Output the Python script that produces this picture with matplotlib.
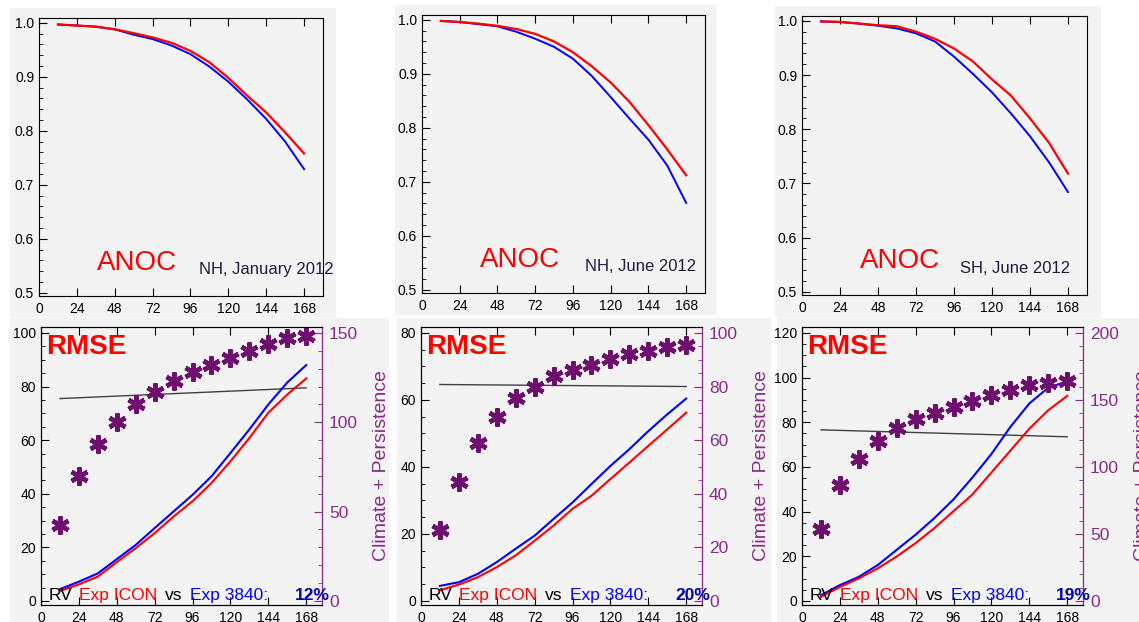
import numpy as np
import matplotlib.pyplot as plt
from matplotlib.ticker import AutoMinorLocator, FormatStrFormatter
from matplotlib.patches import Rectangle

plt.rcParams['font.family'] = ['Liberation Sans', 'DejaVu Sans']

# forecast lead time (hours)
hours = [12, 24, 36, 48, 60, 72, 84, 96, 108, 120, 132, 144, 156, 168]
xtick_vals = [0, 24, 48, 72, 96, 120, 144, 168]

# anomaly correlation, ICON (red) and 3840 (blue)
anoc_titles = ["NH, January 2012", "NH, June 2012", "SH, June 2012"]
anoc_icon_nh_jan = [0.997, 0.995, 0.993, 0.988, 0.981, 0.973, 0.963, 0.948, 0.927, 0.898, 0.865, 0.834, 0.797, 0.758]
anoc_3840_nh_jan = [0.997, 0.995, 0.993, 0.988, 0.978, 0.970, 0.958, 0.942, 0.919, 0.891, 0.858, 0.822, 0.780, 0.729]
anoc_icon_nh_jun = [0.998, 0.996, 0.993, 0.989, 0.983, 0.974, 0.960, 0.940, 0.914, 0.884, 0.848, 0.805, 0.760, 0.712]
anoc_3840_nh_jun = [0.998, 0.996, 0.992, 0.988, 0.978, 0.965, 0.950, 0.928, 0.896, 0.857, 0.817, 0.778, 0.730, 0.661]
anoc_icon_sh_jun = [0.999, 0.998, 0.995, 0.992, 0.990, 0.980, 0.967, 0.949, 0.925, 0.892, 0.862, 0.820, 0.775, 0.718]
anoc_3840_sh_jun = [0.999, 0.998, 0.995, 0.991, 0.986, 0.977, 0.962, 0.934, 0.902, 0.868, 0.829, 0.787, 0.739, 0.684]

# RMSE, ICON (red) and 3840 (blue)
rmse_icon_nh_jan = [3.7, 6.2, 9.1, 14.5, 19.7, 25.3, 31.5, 37.2, 44.0, 52.1, 60.8, 70.2, 77.0, 83.0]
rmse_3840_nh_jan = [4.4, 7.2, 10.3, 15.6, 20.9, 27.2, 33.4, 39.6, 46.5, 55.2, 64.0, 73.3, 81.5, 88.0]
rmse_icon_nh_jun = [3.2, 4.9, 7.1, 10.1, 13.6, 18.0, 22.5, 27.5, 31.4, 36.4, 41.3, 46.3, 51.2, 56.2]
rmse_3840_nh_jun = [4.5, 5.6, 8.1, 11.6, 15.6, 19.5, 24.5, 29.4, 34.9, 40.3, 45.3, 50.7, 55.7, 60.4]
rmse_icon_sh_jun = [1.8, 6.3, 10.1, 14.6, 19.9, 25.9, 32.7, 40.2, 47.7, 57.5, 67.3, 77.1, 85.4, 91.8]
rmse_3840_sh_jun = [2.6, 7.1, 10.8, 16.1, 22.9, 29.7, 37.2, 45.5, 55.3, 65.8, 77.9, 88.4, 95.5, 98.3]

# reference RMSE (black line), start and end of range
ref_hours = [12, 168]
rmse_ref_nh_jan = [75.5, 79.5]
rmse_ref_nh_jun = [64.6, 64.0]
rmse_ref_sh_jun = [76.6, 73.5]

# climate + persistence (stars, right axis)
clim_nh_jan = [42.6, 70.0, 88.0, 100.0, 110.0, 117.0, 123.0, 128.0, 132.0, 136.0, 140.0, 144.0, 147.0, 148.5]
clim_nh_jun = [26.3, 44.5, 59.0, 68.8, 75.8, 79.8, 83.9, 86.0, 88.2, 90.3, 92.2, 93.4, 94.7, 95.3]
clim_sh_jun = [53.5, 86.5, 106.0, 119.5, 129.0, 135.7, 140.6, 145.0, 149.4, 153.9, 157.6, 160.8, 162.6, 163.8]

rv_labels = ["12%", "20%", "19%"]

W, H = 1139, 622
fig = plt.figure(figsize=(W / 100, H / 100), dpi=100)

def px_axes(left, top, right, bottom):
    return fig.add_axes([left / W, 1 - bottom / H, (right - left) / W, (bottom - top) / H])

# grey panel backgrounds
bg = '#f3f3f3'
for (x0, y0, x1, y1) in [(10, 8, 335, 316), (395, 5, 715, 314), (775, 6, 1100, 316),
                         (10, 318, 388, 622), (397, 318, 770, 622), (777, 318, 1139, 622)]:
    fig.patches.append(Rectangle((x0 / W, 1 - y1 / H), (x1 - x0) / W, (y1 - y0) / H,
                                 transform=fig.transFigure, color=bg, zorder=-1))

purple = '#8a2a8a'
star_col = '#6e0f6e'

def style_x(ax, xmax):
    ax.set_xlim(0, xmax)
    ax.set_xticks(xtick_vals)
    ax.tick_params(axis='x', direction='in', top=True, length=6, labelsize=10, pad=4)
    ax.tick_params(axis='y', which='both', direction='in')
    ax.set_facecolor(bg)

# ---- top row: ANOC ----
top_boxes = [(39, 18, 323, 296), (422, 15, 705, 293), (802, 16, 1087, 295)]
anoc_icon = [anoc_icon_nh_jan, anoc_icon_nh_jun, anoc_icon_sh_jun]
anoc_3840 = [anoc_3840_nh_jan, anoc_3840_nh_jun, anoc_3840_sh_jun]
title_x = [0.563, 0.576, 0.554]

for i in range(3):
    ax = px_axes(*top_boxes[i])
    style_x(ax, 180)
    ax.plot(hours, anoc_3840[i], color='#0000ff', lw=1.4)
    ax.plot(hours, anoc_icon[i], color='#ff0000', lw=1.6)
    ax.set_ylim(0.494, 1.009)
    ax.set_yticks([0.5, 0.6, 0.7, 0.8, 0.9, 1.0])
    ax.yaxis.set_major_formatter(FormatStrFormatter('%.1f'))
    ax.yaxis.set_minor_locator(AutoMinorLocator(5))
    ax.tick_params(axis='y', which='major', length=6, labelsize=10)
    ax.tick_params(axis='y', which='minor', length=3)
    ax.text(0.204, 0.095, "ANOC", transform=ax.transAxes, color='#ff0000', fontsize=20)
    ax.text(title_x[i], 0.08, anoc_titles[i], transform=ax.transAxes, color='#1c1c3c',
            fontsize=12, clip_on=False)

# ---- bottom row: RMSE ----
bot_boxes = [(41, 327, 322, 605), (421, 327, 702, 605), (802, 327, 1083, 605)]
rmse_icon = [rmse_icon_nh_jan, rmse_icon_nh_jun, rmse_icon_sh_jun]
rmse_3840 = [rmse_3840_nh_jan, rmse_3840_nh_jun, rmse_3840_sh_jun]
rmse_ref = [rmse_ref_nh_jan, rmse_ref_nh_jun, rmse_ref_sh_jun]
clim = [clim_nh_jan, clim_nh_jun, clim_sh_jun]
left_max = [100, 80, 120]
right_max = [150, 100, 200]
right_step = [50, 20, 50]
right_minor = [5, 4, 5]

for i in range(3):
    ax = px_axes(*bot_boxes[i])
    style_x(ax, 178)
    lm = left_max[i]
    ax.set_ylim(-0.015 * lm, 1.022 * lm)
    ax.set_yticks(np.arange(0, lm + 1, 20))
    ax.yaxis.set_minor_locator(AutoMinorLocator(4))
    ax.tick_params(axis='y', which='major', length=6, labelsize=10, right=False)
    ax.tick_params(axis='y', which='minor', length=3, right=False)
    ax.plot(ref_hours, rmse_ref[i], color='#404040', lw=1.0)
    ax.plot(hours, rmse_3840[i], color='#0000ff', lw=1.5)
    ax.plot(hours, rmse_icon[i], color='#ff0000', lw=1.5)

    ax2 = ax.twinx()
    rm = right_max[i]
    ax2.set_ylim(-0.015 * rm, 1.022 * rm)
    ax2.set_yticks(np.arange(0, rm + 1, right_step[i]))
    ax2.yaxis.set_minor_locator(AutoMinorLocator(right_minor[i]))
    ax2.tick_params(axis='y', which='both', direction='in', colors=purple, labelsize=12.5, pad=5)
    ax2.tick_params(axis='y', which='major', length=6)
    ax2.tick_params(axis='y', which='minor', length=3)
    ax2.spines['right'].set_color(purple)
    ax2.plot(hours, clim[i], linestyle='none', marker=(6, 2, 0), markersize=13,
             markeredgewidth=3.2, color=star_col, clip_on=False)
    ax2.set_ylabel("Climate + Persistence", color=purple, fontsize=14)
    ax2.yaxis.set_label_coords(1.18, 0.5)

    ax.text(0.02, 0.975, "RMSE", transform=ax.transAxes, color='#ff0000', fontsize=20,
            fontweight='bold', va='top')
    # skill line at the bottom of each panel
    for txt, xf, col, w in [("RV", 0.028, 'black', 'normal'), ("Exp ICON", 0.135, '#ff0000', 'normal'),
                            ("vs", 0.44, 'black', 'normal'), ("Exp 3840:", 0.53, '#0000ff', 'normal'),
                            (rv_labels[i], 0.905, '#0000b0', 'bold')]:
        ax2.text(xf, 0.018, txt, transform=ax.transAxes, color=col, fontsize=12.5,
                 fontweight=w, clip_on=False, zorder=5)

fig.savefig("out.png", dpi=100)
